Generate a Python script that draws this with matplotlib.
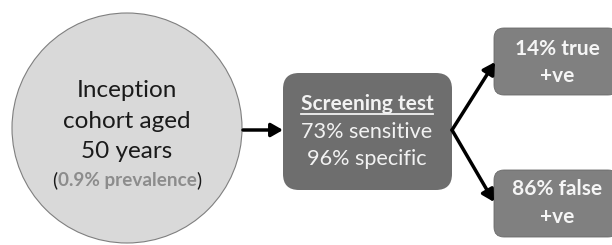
import matplotlib.pyplot as plt
from matplotlib.patches import Circle, FancyBboxPatch, FancyArrowPatch

plt.rcParams['font.family'] = ['Lato', 'DejaVu Sans']

# text content
cohort_lines = ["Inception", "cohort aged", "50 years"]
prevalence = "0.9% prevalence"
test_title = "Screening test"
test_lines = ["73% sensitive", "96% specific"]
outcome_top = ["14% true", "+ve"]
outcome_bottom = ["86% false", "+ve"]

fig = plt.figure(figsize=(6.12, 2.45), dpi=100)
ax = fig.add_axes([0, 0, 1, 1])
ax.set_xlim(0, 612)
ax.set_ylim(245, 0)
ax.axis('off')

# cohort circle
ax.add_patch(Circle((127, 128), 115, facecolor='#d9d9d9', edgecolor='#7f7f7f', lw=0.8))
for y, s in zip([97, 128, 158], cohort_lines):
    ax.text(127, y, s, ha='center', va='baseline', fontsize=17.5, color='#1a1a1a')

# screening box
ax.add_patch(FancyBboxPatch((283, 73), 169, 117, boxstyle="round,pad=0,rounding_size=16",
                            facecolor='#6e6e6e', edgecolor='none'))
# outcome boxes
ax.add_patch(FancyBboxPatch((494, 28), 124, 67, boxstyle="round,pad=0,rounding_size=10",
                            facecolor='#808080', edgecolor='#6a6a6a', lw=0.6))
ax.add_patch(FancyBboxPatch((494, 170), 124, 67, boxstyle="round,pad=0,rounding_size=10",
                            facecolor='#808080', edgecolor='#6a6a6a', lw=0.6))

t_title = ax.text(367, 110, test_title, ha='center', va='baseline', fontsize=15,
                  fontweight='bold', color='#f2f2f2')
for y, s in zip([138, 165], test_lines):
    ax.text(367, y, s, ha='center', va='baseline', fontsize=15.6, color='#f2f2f2')

for y, s in zip([55, 82], outcome_top):
    ax.text(557, y, s, ha='center', va='baseline', fontsize=15, fontweight='bold', color='#f5f5f5')
for y, s in zip([195, 223], outcome_bottom):
    ax.text(557, y, s, ha='center', va='baseline', fontsize=15, fontweight='bold', color='#f5f5f5')

# arrows
arr = dict(arrowstyle='-|>,head_length=7,head_width=4', color='black', lw=2.5,
           shrinkA=0, shrinkB=0)
ax.add_patch(FancyArrowPatch((243, 130), (283, 130), **arr))
ax.add_patch(FancyArrowPatch((452, 130), (495, 62), **arr))
ax.add_patch(FancyArrowPatch((452, 130), (494, 202), **arr))

# prevalence line with mixed styling
fig.canvas.draw()
r = fig.canvas.get_renderer()
inv = ax.transData.inverted()
pieces = [("(", 'normal', '#1a1a1a'), (prevalence, 'bold', '#8c8c8c'), (")", 'normal', '#1a1a1a')]
objs = []
for s, w, c in pieces:
    objs.append(ax.text(0, 186, s, ha='left', va='baseline', fontsize=13.6, fontweight=w, color=c))
widths = []
for o in objs:
    bb = o.get_window_extent(r)
    widths.append(bb.width)
total = sum(widths)
x0_px = ax.transData.transform((127, 0))[0] - total / 2
for o, wpx in zip(objs, widths):
    o.set_x(inv.transform((x0_px, 0))[0])
    x0_px += wpx

# underline under the title
bb = t_title.get_window_extent(r)
(xa, ya), (xb, yb) = inv.transform([(bb.x0, bb.y0), (bb.x1, bb.y1)])
ax.plot([xa, xb], [113.5, 113.5], color='#f2f2f2', lw=1.3)

fig.savefig('out.png', dpi=100)
